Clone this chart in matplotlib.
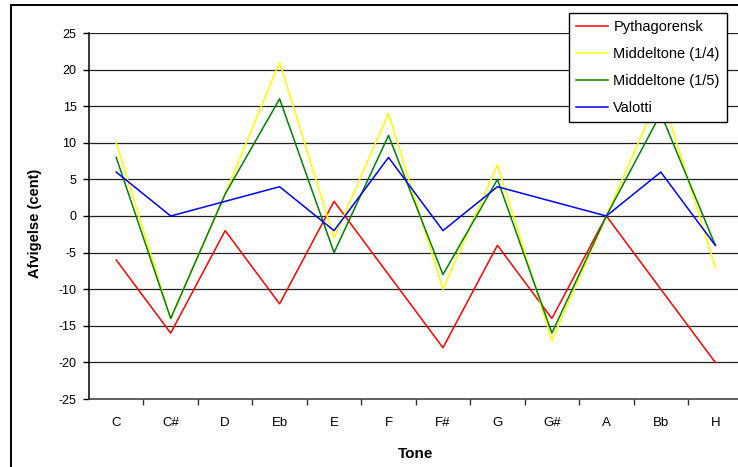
import matplotlib
matplotlib.use("Agg")
import matplotlib.pyplot as plt
from matplotlib.lines import Line2D

plt.rcParams['font.family'] = ['Liberation Sans', 'DejaVu Sans']
plt.rcParams['axes.unicode_minus'] = False

tones = ["C", "C#", "D", "Eb", "E", "F", "F#", "G", "G#", "A", "Bb", "H"]
pythagorensk = [-6, -16, -2, -12, 2, -8, -18, -4, -14, 0, -10, -20]
middeltone_14 = [10, -14, 3, 21, -3, 14, -10, 7, -17, 0, 17, -7]
middeltone_15 = [8, -14, 3, 16, -5, 11, -8, 5, -16, 0, 14, -4]
valotti = [6, 0, 2, 4, -2, 8, -2, 4, 2, 0, 6, -4]

series = [
    ("Pythagorensk", pythagorensk, "#FF0000"),
    ("Middeltone (1/4)", middeltone_14, "#FFFF00"),
    ("Middeltone (1/5)", middeltone_15, "#008000"),
    ("Valotti", valotti, "#0000FF"),
]

W, H = 738, 467
fig = plt.figure(figsize=(W / 100, H / 100), dpi=100)
fig.patch.set_facecolor("white")

left, right, top, bottom = 89, 742.5, 33, 399
ax = fig.add_axes([left / W, (H - bottom) / H, (right - left) / W, (bottom - top) / H])

x = list(range(len(tones)))
for name, vals, col in series:
    ax.plot(x, vals, color=col, lw=1.1, label=name, zorder=3)

ax.set_xlim(-0.5, len(tones) - 0.5)
ax.set_ylim(-25, 25)
ax.set_yticks(range(-25, 26, 5))
ax.set_xticks(x)
ax.set_xticklabels(tones)
ax.set_xticks([i + 0.5 for i in range(len(tones) - 1)], minor=True)
ax.tick_params(axis="x", which="major", length=0, pad=13, labelsize=9.5)
ax.tick_params(axis="x", which="minor", length=4, width=1, direction="out", color="#333333")
ax.tick_params(axis="y", length=4, width=1, direction="out", pad=5, labelsize=9)

for v in range(-20, 26, 5):
    ax.axhline(v, color="#222222", lw=0.9, zorder=1)

for s in ["top", "right"]:
    ax.spines[s].set_visible(False)
ax.spines["left"].set_color("black")
ax.spines["left"].set_linewidth(1.1)
ax.spines["bottom"].set_color("#333333")
ax.spines["bottom"].set_linewidth(1.1)

ax.set_ylabel("Afvigelse (cent)", fontsize=10.5, fontweight="bold", labelpad=11)
ax.yaxis.set_label_coords(-0.072, 0.48)
ax.set_xlabel("Tone", fontsize=11, fontweight="bold", labelpad=13)

leg = ax.legend(loc="upper right", bbox_to_anchor=(727 / W, (H - 13) / H),
                bbox_transform=fig.transFigure, borderaxespad=0, fancybox=False,
                framealpha=1, edgecolor="black", fontsize=10.5, handlelength=2.2,
                handletextpad=0.35, labelspacing=0.88, borderpad=0.5)
leg.get_frame().set_linewidth(1.0)

# outer frame (cropped on right and bottom)
fig.add_artist(Line2D([11 / W, 1], [(H - 5) / H, (H - 5) / H], color="black", lw=1.4,
                      transform=fig.transFigure))
fig.add_artist(Line2D([11 / W, 11 / W], [0, (H - 5) / H], color="black", lw=1.4,
                      transform=fig.transFigure))

fig.savefig("out.png", dpi=100)
